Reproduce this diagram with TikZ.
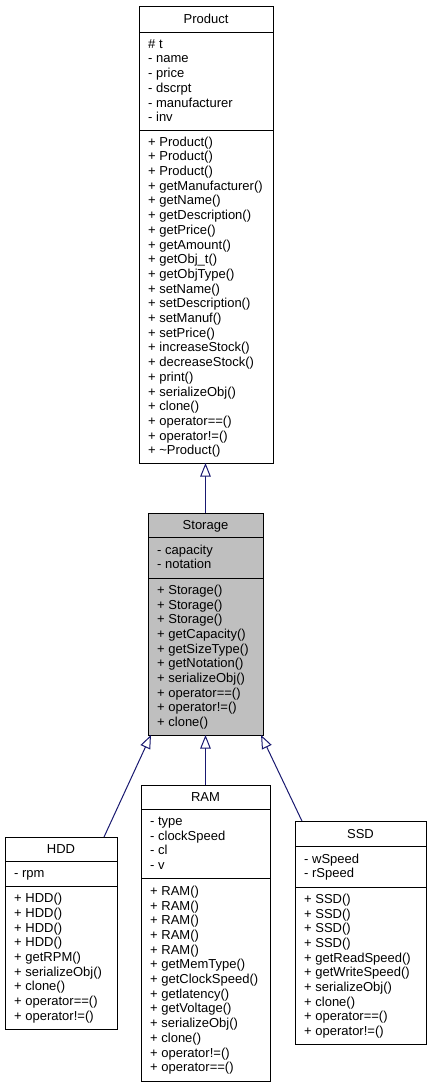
\documentclass[tikz,border=0pt]{standalone}
\usepackage{fontspec}
\setmainfont{Liberation Sans}
\usetikzlibrary{arrows.meta,calc}

\definecolor{edgecol}{RGB}{25,25,112}
\definecolor{focusfill}{RGB}{191,191,191}

\def\lineh{14.7}

% one text line per member, spread evenly over a compartment
\newcommand\members[6]{% #1 name, #2 text x, #3 top, #4 bottom, #5 count, #6 list
  \foreach \txt [count=\i from 0] in {#6} {
    \node[member] (#1-\i) at ({#2}, {(#3+#4)/2 - (#5-1)*\lineh/2 + \i*\lineh + 4}) {\txt};
  }}

\tikzset{
  umlbox/.style={draw=black, line width=1pt, fill=white, inner sep=0pt,
    outer sep=0pt, anchor=north west},
  sep/.style={draw=black, line width=1pt},
  member/.style={anchor=base west, inner sep=0pt, font=\fontsize{13}{14.7}\selectfont},
  title/.style={anchor=base, inner sep=0pt, font=\fontsize{13}{14.7}\selectfont},
  inherit/.style={draw=edgecol, line width=1pt,
    -{Triangle[length=13.5pt, width=10.5pt, fill=white]}},
}

\begin{document}
\begin{tikzpicture}[x=1pt, y=-1pt]
\useasboundingbox (0,0) rectangle (429,1087);

% ---------- Product ----------
\node[umlbox, minimum width=134pt, minimum height=457pt] (product) at (139,6) {};
\draw[sep] (139,32) -- (273,32);
\draw[sep] (139,130) -- (273,130);
\node[title] (product-name) at (206,23.5) {Product};
\members{pa}{148}{32}{130}{6}{\# t, - name, - price, - dscrpt, - manufacturer, - inv}
\members{pm}{148}{130}{463}{22}{+ Product(), + Product(), + Product(),
  + getManufacturer(), + getName(), + getDescription(), + getPrice(),
  + getAmount(), + getObj\_t(), + getObjType(), + setName(),
  + setDescription(), + setManuf(), + setPrice(), + increaseStock(),
  + decreaseStock(), + print(), + serializeObj(), + clone(),
  + operator==(), + operator!=(), + \textasciitilde Product()}

% ---------- Storage ----------
\node[umlbox, fill=focusfill, minimum width=115pt, minimum height=222pt] (storage) at (148,513) {};
\draw[sep] (148,537) -- (263,537);
\draw[sep] (148,578) -- (263,578);
\node[title] (storage-name) at (205.5,529.5) {Storage};
\members{sa}{157}{537}{578}{2}{- capacity, - notation}
\members{sm}{157}{578}{735}{10}{+ Storage(), + Storage(), + Storage(),
  + getCapacity(), + getSizeType(), + getNotation(), + serializeObj(),
  + operator==(), + operator!=(), + clone()}

% ---------- HDD ----------
\node[umlbox, minimum width=112pt, minimum height=192pt] (hdd) at (5,837) {};
\draw[sep] (5,861) -- (117,861);
\draw[sep] (5,886) -- (117,886);
\node[title] (hdd-name) at (61,853.5) {HDD};
\members{ha}{14}{861}{886}{1}{- rpm}
\members{hm}{14}{886}{1029}{9}{+ HDD(), + HDD(), + HDD(), + HDD(),
  + getRPM(), + serializeObj(), + clone(), + operator==(), + operator!=()}

% ---------- RAM ----------
\node[umlbox, minimum width=129pt, minimum height=296pt] (ram) at (141,785) {};
\draw[sep] (141,809) -- (270,809);
\draw[sep] (141,878) -- (270,878);
\node[title] (ram-name) at (205.5,801.5) {RAM};
\members{ra}{150}{809}{878}{4}{- type, - clockSpeed, - cl, - v}
\members{rm}{150}{878}{1081}{13}{+ RAM(), + RAM(), + RAM(), + RAM(), + RAM(),
  + getMemType(), + getClockSpeed(), + getlatency(), + getVoltage(),
  + serializeObj(), + clone(), + operator!=(), + operator==()}

% ---------- SSD ----------
\node[umlbox, minimum width=131pt, minimum height=223pt] (ssd) at (295,821) {};
\draw[sep] (295,846) -- (426,846);
\draw[sep] (295,887) -- (426,887);
\node[title] (ssd-name) at (360.5,838) {SSD};
\members{da}{304}{846}{887}{2}{- wSpeed, - rSpeed}
\members{dm}{304}{887}{1044}{10}{+ SSD(), + SSD(), + SSD(), + SSD(),
  + getReadSpeed(), + getWriteSpeed(), + serializeObj(), + clone(),
  + operator==(), + operator!=()}

% ---------- generalisations ----------
\draw[inherit] (storage.north) -- (storage.north |- product.south);
\draw[inherit] ($(hdd.north west)!0.884!(hdd.north east)$)
  -- ($(storage.south west)!0.026!(storage.south east)$);
\draw[inherit] (ram.north) -- (storage.south);
\draw[inherit] ($(ssd.north west)!0.053!(ssd.north east)$)
  -- ($(storage.south west)!0.983!(storage.south east)$);
\end{tikzpicture}
\end{document}
